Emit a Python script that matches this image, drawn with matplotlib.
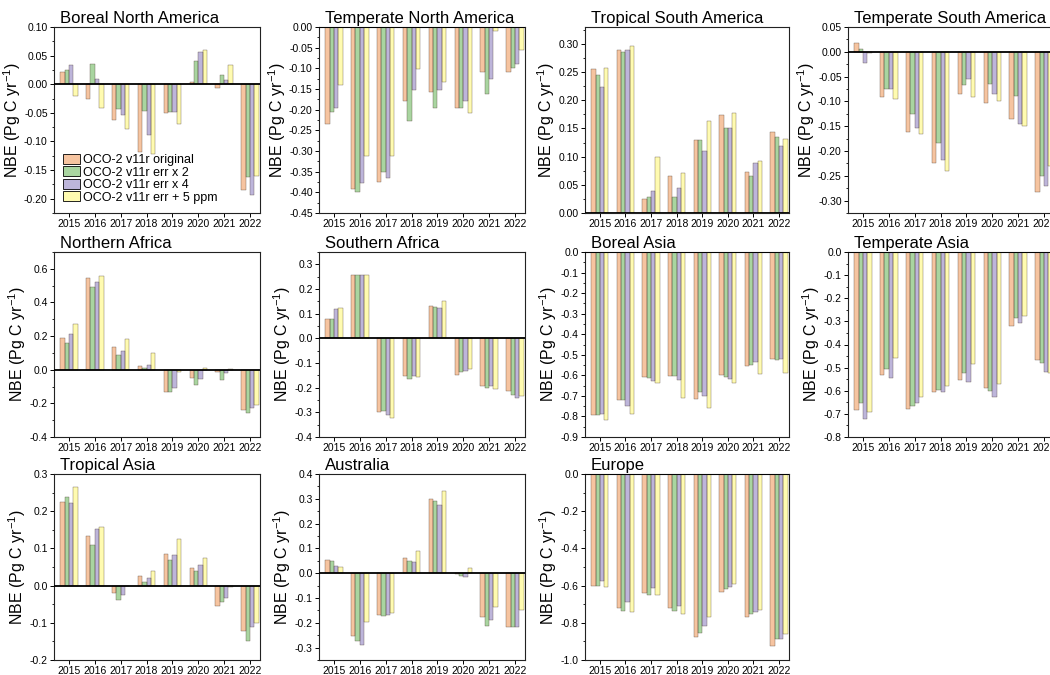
import matplotlib
matplotlib.use("Agg")
import matplotlib.pyplot as plt
import numpy as np
from matplotlib.ticker import MultipleLocator, FormatStrFormatter

plt.rcParams['font.family'] = ['Liberation Sans', 'DejaVu Sans']
plt.rcParams['mathtext.fontset'] = 'custom'
plt.rcParams['mathtext.rm'] = 'Liberation Sans'
plt.rcParams['mathtext.it'] = 'Liberation Sans'
plt.rcParams['axes.unicode_minus'] = False

years = [2015, 2016, 2017, 2018, 2019, 2020, 2021, 2022]
series_names = ["OCO-2 v11r original", "OCO-2 v11r err x 2",
                "OCO-2 v11r err x 4", "OCO-2 v11r err + 5 ppm"]
series_colors = ["#F6C4A0", "#A9D5A0", "#BDB5DA", "#FFFBB0"]

# each region: rows = [original, err x 2, err x 4, err + 5 ppm]
boreal_na = [
    [0.022, -0.026, -0.062, -0.118, -0.051, 0.004, -0.007, -0.184],
    [0.024, 0.035, -0.044, -0.046, -0.049, 0.041, 0.016, -0.162],
    [0.034, 0.010, -0.053, -0.089, -0.049, 0.056, 0.008, -0.193],
    [-0.020, -0.042, -0.078, -0.122, -0.070, 0.060, 0.034, -0.160],
]
temperate_na = [
    [-0.235, -0.393, -0.375, -0.180, -0.157, -0.195, -0.108, -0.108],
    [-0.205, -0.400, -0.350, -0.228, -0.195, -0.197, -0.163, -0.098],
    [-0.195, -0.378, -0.365, -0.152, -0.153, -0.178, -0.125, -0.090],
    [-0.140, -0.313, -0.312, -0.102, -0.133, -0.207, -0.010, -0.055],
]
tropical_sa = [
    [0.255, 0.289, 0.025, 0.066, 0.130, 0.173, 0.073, 0.144],
    [0.245, 0.286, 0.028, 0.028, 0.129, 0.151, 0.066, 0.135],
    [0.223, 0.290, 0.039, 0.045, 0.110, 0.150, 0.089, 0.118],
    [0.257, 0.297, 0.099, 0.071, 0.163, 0.177, 0.093, 0.132],
]
temperate_sa = [
    [0.018, -0.091, -0.162, -0.225, -0.085, -0.103, -0.136, -0.283],
    [0.006, -0.075, -0.125, -0.183, -0.066, -0.065, -0.089, -0.250],
    [-0.022, -0.076, -0.153, -0.219, -0.055, -0.085, -0.145, -0.270],
    [-0.002, -0.096, -0.165, -0.241, -0.091, -0.100, -0.150, -0.230],
]
northern_africa = [
    [0.19, 0.545, 0.135, 0.020, -0.130, -0.050, -0.015, -0.240],
    [0.16, 0.490, 0.090, 0.010, -0.135, -0.090, -0.060, -0.260],
    [0.21, 0.520, 0.110, 0.030, -0.110, -0.055, -0.020, -0.230],
    [0.27, 0.560, 0.180, 0.100, -0.015, 0.010, 0.005, -0.210],
]
southern_africa = [
    [0.078, 0.258, -0.297, -0.152, 0.133, -0.150, -0.195, -0.212],
    [0.080, 0.258, -0.295, -0.163, 0.128, -0.135, -0.200, -0.230],
    [0.118, 0.258, -0.310, -0.152, 0.125, -0.133, -0.195, -0.240],
    [0.125, 0.258, -0.322, -0.155, 0.150, -0.125, -0.205, -0.233],
]
boreal_asia = [
    [-0.795, -0.718, -0.608, -0.605, -0.713, -0.598, -0.555, -0.520],
    [-0.795, -0.722, -0.612, -0.605, -0.680, -0.606, -0.552, -0.525],
    [-0.790, -0.748, -0.628, -0.622, -0.700, -0.618, -0.535, -0.520],
    [-0.818, -0.788, -0.635, -0.710, -0.760, -0.635, -0.592, -0.590],
]
temperate_asia = [
    [-0.683, -0.530, -0.677, -0.607, -0.553, -0.588, -0.320, -0.465],
    [-0.652, -0.505, -0.668, -0.595, -0.525, -0.600, -0.285, -0.480],
    [-0.720, -0.545, -0.655, -0.607, -0.562, -0.627, -0.308, -0.517],
    [-0.690, -0.460, -0.625, -0.580, -0.485, -0.572, -0.278, -0.522],
]
tropical_asia = [
    [0.224, 0.132, -0.021, 0.027, 0.085, 0.048, -0.055, -0.121],
    [0.239, 0.110, -0.040, 0.010, 0.068, 0.040, -0.045, -0.148],
    [0.223, 0.153, -0.026, 0.020, 0.083, 0.055, -0.033, -0.112],
    [0.265, 0.158, -0.002, 0.040, 0.125, 0.073, -0.003, -0.101],
]
australia = [
    [0.053, -0.255, -0.168, 0.063, 0.300, -0.003, -0.175, -0.215],
    [0.048, -0.272, -0.173, 0.050, 0.290, -0.013, -0.213, -0.215],
    [0.030, -0.290, -0.170, 0.044, 0.275, -0.015, -0.190, -0.218],
    [0.025, -0.195, -0.160, 0.088, 0.332, 0.020, -0.135, -0.150],
]
europe = [
    [-0.600, -0.723, -0.638, -0.722, -0.878, -0.635, -0.770, -0.925],
    [-0.600, -0.738, -0.648, -0.738, -0.855, -0.620, -0.750, -0.885],
    [-0.575, -0.688, -0.612, -0.712, -0.815, -0.610, -0.740, -0.885],
    [-0.610, -0.740, -0.648, -0.750, -0.770, -0.590, -0.730, -0.860],
]

region_titles = ["Boreal North America", "Temperate North America",
                 "Tropical South America", "Temperate South America",
                 "Northern Africa", "Southern Africa", "Boreal Asia",
                 "Temperate Asia", "Tropical Asia", "Australia", "Europe"]
region_data = [boreal_na, temperate_na, tropical_sa, temperate_sa,
               northern_africa, southern_africa, boreal_asia, temperate_asia,
               tropical_asia, australia, europe]

# (ymin, ymax, major step, minor step, format)
axis_specs = [
    (-0.225, 0.10, 0.05, 0.025, "%.2f"),
    (-0.45, 0.0, 0.05, 0.025, "%.2f"),
    (0.0, 0.33, 0.05, 0.025, "%.2f"),
    (-0.325, 0.05, 0.05, 0.025, "%.2f"),
    (-0.4, 0.7, 0.2, 0.1, "%.1f"),
    (-0.4, 0.35, 0.1, 0.05, "%.1f"),
    (-0.9, 0.0, 0.1, 0.05, "%.1f"),
    (-0.8, 0.0, 0.1, 0.05, "%.1f"),
    (-0.2, 0.3, 0.1, 0.05, "%.1f"),
    (-0.35, 0.4, 0.1, 0.05, "%.1f"),
    (-1.0, 0.0, 0.2, 0.1, "%.1f"),
]

W, H = 1050, 675
fig = plt.figure(figsize=(10.5, 6.75), dpi=100)

col_x = [(54, 260), (319, 525), (585, 789), (848, 1054)]
row_y = [(27, 213), (252, 437), (474, 660)]

bar_w = 0.168
offsets = [-1.5, -0.5, 0.5, 1.5]
x = np.array(years, dtype=float)

for i, (title, data, spec) in enumerate(zip(region_titles, region_data, axis_specs)):
    r, c = divmod(i, 4)
    x0, x1 = col_x[c]
    y0, y1 = row_y[r]
    ax = fig.add_axes([x0 / W, 1 - y1 / H, (x1 - x0) / W, (y1 - y0) / H])
    for k in range(4):
        ax.bar(x + offsets[k] * bar_w, data[k], width=bar_w,
               color=series_colors[k], edgecolor='none', linewidth=0,
               label=series_names[k], zorder=2)
        # thin dark edge on bar outline (imitates original rendering)
        ax.bar(x + offsets[k] * bar_w, data[k], width=bar_w,
               color='none', edgecolor='#4a3a30', linewidth=0.3, alpha=0.8,
               zorder=3)
    ymin, ymax, major, minor, fmt = spec
    ax.set_ylim(ymin, ymax)
    ax.set_xlim(2014.42, 2022.39)
    ax.axhline(0, color='black', linewidth=1.3, zorder=4)
    ax.set_xticks(years)
    ax.set_xticklabels([str(y) for y in years])
    ax.yaxis.set_major_locator(MultipleLocator(major))
    ax.yaxis.set_minor_locator(MultipleLocator(minor))
    ax.yaxis.set_major_formatter(FormatStrFormatter(fmt))
    ax.tick_params(axis='both', which='major', labelsize=7.5, length=3,
                   width=0.7, direction='out', pad=1.5, colors='black')
    ax.tick_params(axis='y', which='minor', length=1.6, width=0.6,
                   direction='out')
    for sp in ax.spines.values():
        sp.set_linewidth(0.8)
        sp.set_color('#222222')
    ax.set_ylabel("NBE (Pg C yr$^{-1}$)", fontsize=11.5, labelpad=1)
    ax.text(0.03, 1.004, title, transform=ax.transAxes, fontsize=12,
            ha='left', va='bottom')
    if i == 0:
        ax.legend(loc='lower left', bbox_to_anchor=(0.0, 0.0),
                  fontsize=9, frameon=False, handlelength=1.3,
                  handleheight=0.85, handletextpad=0.25, labelspacing=0.02,
                  borderaxespad=0.35,
                  handles=[plt.Rectangle((0, 0), 1, 1, facecolor=series_colors[k],
                                         edgecolor='black', linewidth=0.6)
                           for k in range(4)],
                  labels=series_names)

fig.savefig("out.png", dpi=100)
